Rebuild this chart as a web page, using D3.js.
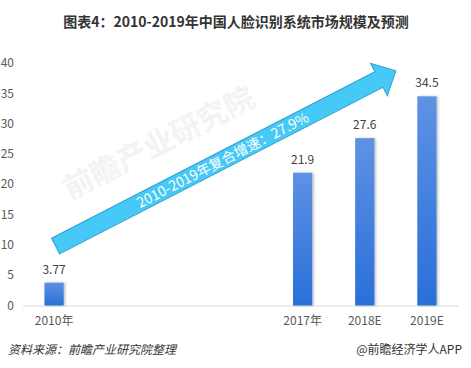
<!DOCTYPE html>
<html>
<head>
<meta charset="utf-8">
<script src="https://cdn.jsdelivr.net/npm/d3@7"></script>
<style>
  body { margin: 0; background: #fff; }
  text { font-family: "Microsoft YaHei", "Noto Sans CJK SC", sans-serif; }
</style>
</head>
<body>
<div id="chart"></div>
<script>
// chart data
var categories = ["2010", "gap1", "gap2", "gap3", "2017", "2018E", "2019E"];
var catLabels = ["2010年", "", "", "", "2017年", "2018E", "2019E"];
var values = [3.77, null, null, null, 21.9, 27.6, 34.5];
var yTicks = [0, 5, 10, 15, 20, 25, 30, 35, 40];
var cagrText = "2010-2019年复合增速：27.9%";

var width = 471, height = 368;

var svg = d3.select("#chart").append("svg")
    .attr("width", width)
    .attr("height", height);

var defs = svg.append("defs");
var grad = defs.append("linearGradient")
    .attr("id", "barGrad")
    .attr("x1", 0).attr("y1", 0).attr("x2", 0).attr("y2", 1);
grad.append("stop").attr("offset", "0%").attr("stop-color", "#5e92e4");
grad.append("stop").attr("offset", "100%").attr("stop-color", "#2a6fd9");

var shadow = defs.append("filter").attr("id", "shadow")
    .attr("x", "-30%").attr("y", "-10%").attr("width", "160%").attr("height", "120%");
shadow.append("feDropShadow")
    .attr("dx", 1.5).attr("dy", 0).attr("stdDeviation", 1.2)
    .attr("flood-color", "#000").attr("flood-opacity", 0.25);

// scales
var x = d3.scaleBand()
    .domain(categories)
    .range([23, 458])
    .paddingInner(0.69)
    .paddingOuter(0.345);

var y = d3.scaleLinear()
    .domain([0, 40])
    .range([305.5, 63]);

// title
svg.append("text")
    .attr("x", 236)
    .attr("y", 27)
    .attr("text-anchor", "middle")
    .attr("font-size", 14)
    .attr("font-weight", "bold")
    .attr("fill", "#333")
    .text("图表4：2010-2019年中国人脸识别系统市场规模及预测");

// faint watermark
svg.append("text")
    .attr("transform", "translate(70,200) rotate(-27)")
    .attr("font-size", 30)
    .attr("font-weight", "bold")
    .attr("fill", "#f3f3f3")
    .text("前瞻产业研究院");

// y axis labels
svg.append("g")
    .selectAll("text")
    .data(yTicks)
    .enter().append("text")
    .attr("x", 14)
    .attr("y", function(d) { return y(d); })
    .attr("dy", "0.35em")
    .attr("text-anchor", "end")
    .attr("font-size", 12)
    .attr("fill", "#595959")
    .text(function(d) { return d; });

// x axis
var xAxis = svg.append("g")
    .attr("transform", "translate(0," + y(0) + ")")
    .call(d3.axisBottom(x).tickSize(0).tickFormat(function(d, i) { return catLabels[i]; }));
xAxis.select(".domain").attr("stroke", "#d9d9d9").attr("d", "M23,0.5H458");
xAxis.selectAll("text")
    .attr("dy", "0")
    .attr("y", 19)
    .attr("font-size", 12)
    .attr("fill", "#595959")
    .style("font-family", "\"Microsoft YaHei\", \"Noto Sans CJK SC\", sans-serif");

var data = categories.map(function(c, i) { return { cat: c, val: values[i] }; })
    .filter(function(d) { return d.val !== null; });

// bars
svg.selectAll(".bar")
    .data(data)
    .enter().append("rect")
    .attr("class", "bar")
    .attr("x", function(d) { return x(d.cat); })
    .attr("width", x.bandwidth())
    .attr("y", function(d) { return y(d.val); })
    .attr("height", function(d) { return y(0) - y(d.val); })
    .attr("fill", "url(#barGrad)")
    .attr("filter", "url(#shadow)");

// value labels
svg.selectAll(".val")
    .data(data)
    .enter().append("text")
    .attr("class", "val")
    .attr("x", function(d) { return x(d.cat) + x.bandwidth() / 2; })
    .attr("y", function(d) { return y(d.val) - 9; })
    .attr("text-anchor", "middle")
    .attr("font-size", 12)
    .attr("fill", "#404040")
    .text(function(d) { return d.val; });

// growth arrow, anchored on the scales
var x0 = x("2010") + x.bandwidth() / 2 + 1.5,
    y0 = y(9.8),
    x1 = (x("2018E") + x("2019E")) / 2 + x.bandwidth() / 2,
    y1 = y(38.7);
var len = Math.sqrt((x1 - x0) * (x1 - x0) + (y1 - y0) * (y1 - y0));
var ang = Math.atan2(y1 - y0, x1 - x0) * 180 / Math.PI;
var bh = 8.75, hh = 18.3, hl = 19;
var pts = [[0, -bh], [len - hl, -bh], [len - hl, -hh], [len, 0], [len - hl, hh], [len - hl, bh], [0, bh]];

var arrow = svg.append("g")
    .attr("transform", "translate(" + x0 + "," + y0 + ") rotate(" + ang + ")");
arrow.append("polygon")
    .attr("points", pts.map(function(p) { return p.join(","); }).join(" "))
    .attr("fill", "#47c9f7")
    .attr("stroke", "#2b9fcf")
    .attr("stroke-width", 1);
arrow.append("text")
    .attr("x", 188)
    .attr("y", 0)
    .attr("dy", "0.36em")
    .attr("text-anchor", "middle")
    .attr("font-size", 14)
    .attr("fill", "#fff")
    .text(cagrText);

// footer
svg.append("text")
    .attr("x", 8)
    .attr("y", 354)
    .attr("font-size", 12)
    .attr("font-style", "italic")
    .attr("fill", "#333")
    .text("资料来源：前瞻产业研究院整理");
svg.append("text")
    .attr("x", 462)
    .attr("y", 354)
    .attr("text-anchor", "end")
    .attr("font-size", 12)
    .attr("fill", "#333")
    .text("@前瞻经济学人APP");
</script>
</body>
</html>
